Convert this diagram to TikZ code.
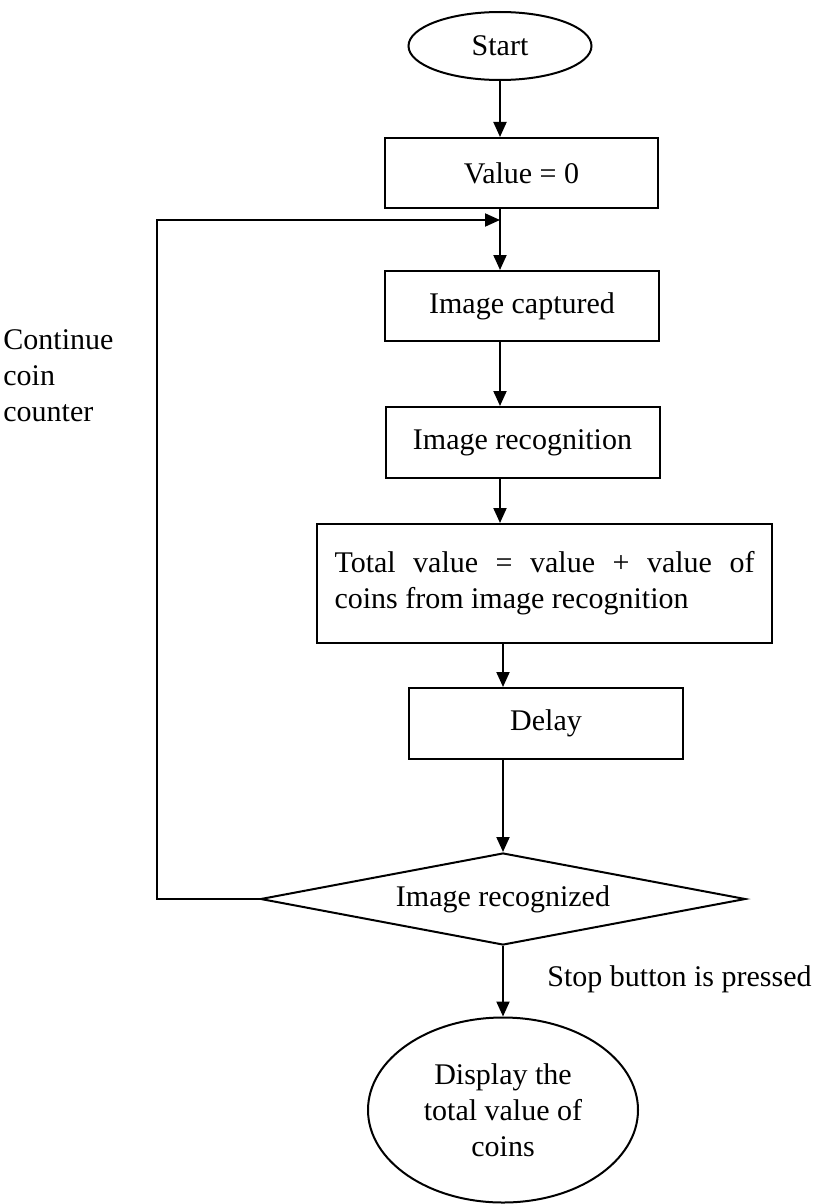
\documentclass[tikz,border=0pt]{standalone}
\usepackage{fontspec}
\setmainfont{Liberation Serif}
\usetikzlibrary{shapes.geometric, arrows.meta, positioning}

\begin{document}
\begin{tikzpicture}[x=0.5pt, y=-0.5pt, every node/.style={font=\fontsize{15}{18}\selectfont},
    term/.style={draw, ellipse, line width=1pt, inner sep=0pt},
    proc/.style={draw, rectangle, line width=1pt, minimum width=137pt, minimum height=35pt, inner sep=0pt},
    dec/.style={draw, diamond, aspect=5.3, line width=1pt, minimum width=242.5pt, minimum height=46pt, inner sep=0pt},
    lbl/.style={inner sep=0pt},
    arr/.style={-{Triangle[length=7.5pt,width=6.5pt]}, line width=1pt}]
            \useasboundingbox (0,0) rectangle (816,1204);
            % START
            \node[term, minimum width=91.5pt, minimum height=34pt] (start) at (500,46) {Start};
            \node[proc, minimum width=136.5pt] (val) at (521.5,173) {Value = 0};
            % LOOP BODY
            \node[proc] (cap) at (522,306) {Image captured};
            \node[proc, minimum height=35.5pt] (rec) at (522.5,442.5) {Image recognition};
            \node[proc, minimum width=227.5pt, minimum height=59.5pt, text width=210pt, align=justify] (tot) at (544.5,583.5)
                {Total value = value + value of\linebreak coins from image recognition};
            \node[proc, minimum height=35.5pt] (dly) at (546,723.5) {Delay};
            % CHECK
            \node[dec] (chk) at (503,899) {Image recognized};
            % END
            \node[term, minimum width=135pt, minimum height=92.5pt, align=center] (disp) at (503,1110)
                {Display the\\total value of\\coins};
            % LABELS
            \node[lbl, anchor=west, align=left] (cont) at (3,376) {Continue\\coin\\counter};
            \node[lbl, anchor=west] (stop) at (547,979) {Stop button is pressed};
            % ARROWS
            \coordinate (join) at (500,220);
            \coordinate (loopx) at (157,0);
            \draw[arr] (start.south) -- (start.south |- val.north);
            \draw[arr] (val.south -| start) -- (cap.north -| start);
            \draw[arr] (cap.south -| start) -- (rec.north -| start);
            \draw[arr] (rec.south -| start) -- (tot.north -| start);
            \draw[arr] (tot.south -| chk) -- (dly.north -| chk);
            \draw[arr] (dly.south -| chk) -- (chk.north);
            \draw[arr] (chk.south) -- (disp.north);
            \draw[arr] (chk.west) -- (chk.west -| loopx) |- (join);
        \end{tikzpicture}
\end{document}
